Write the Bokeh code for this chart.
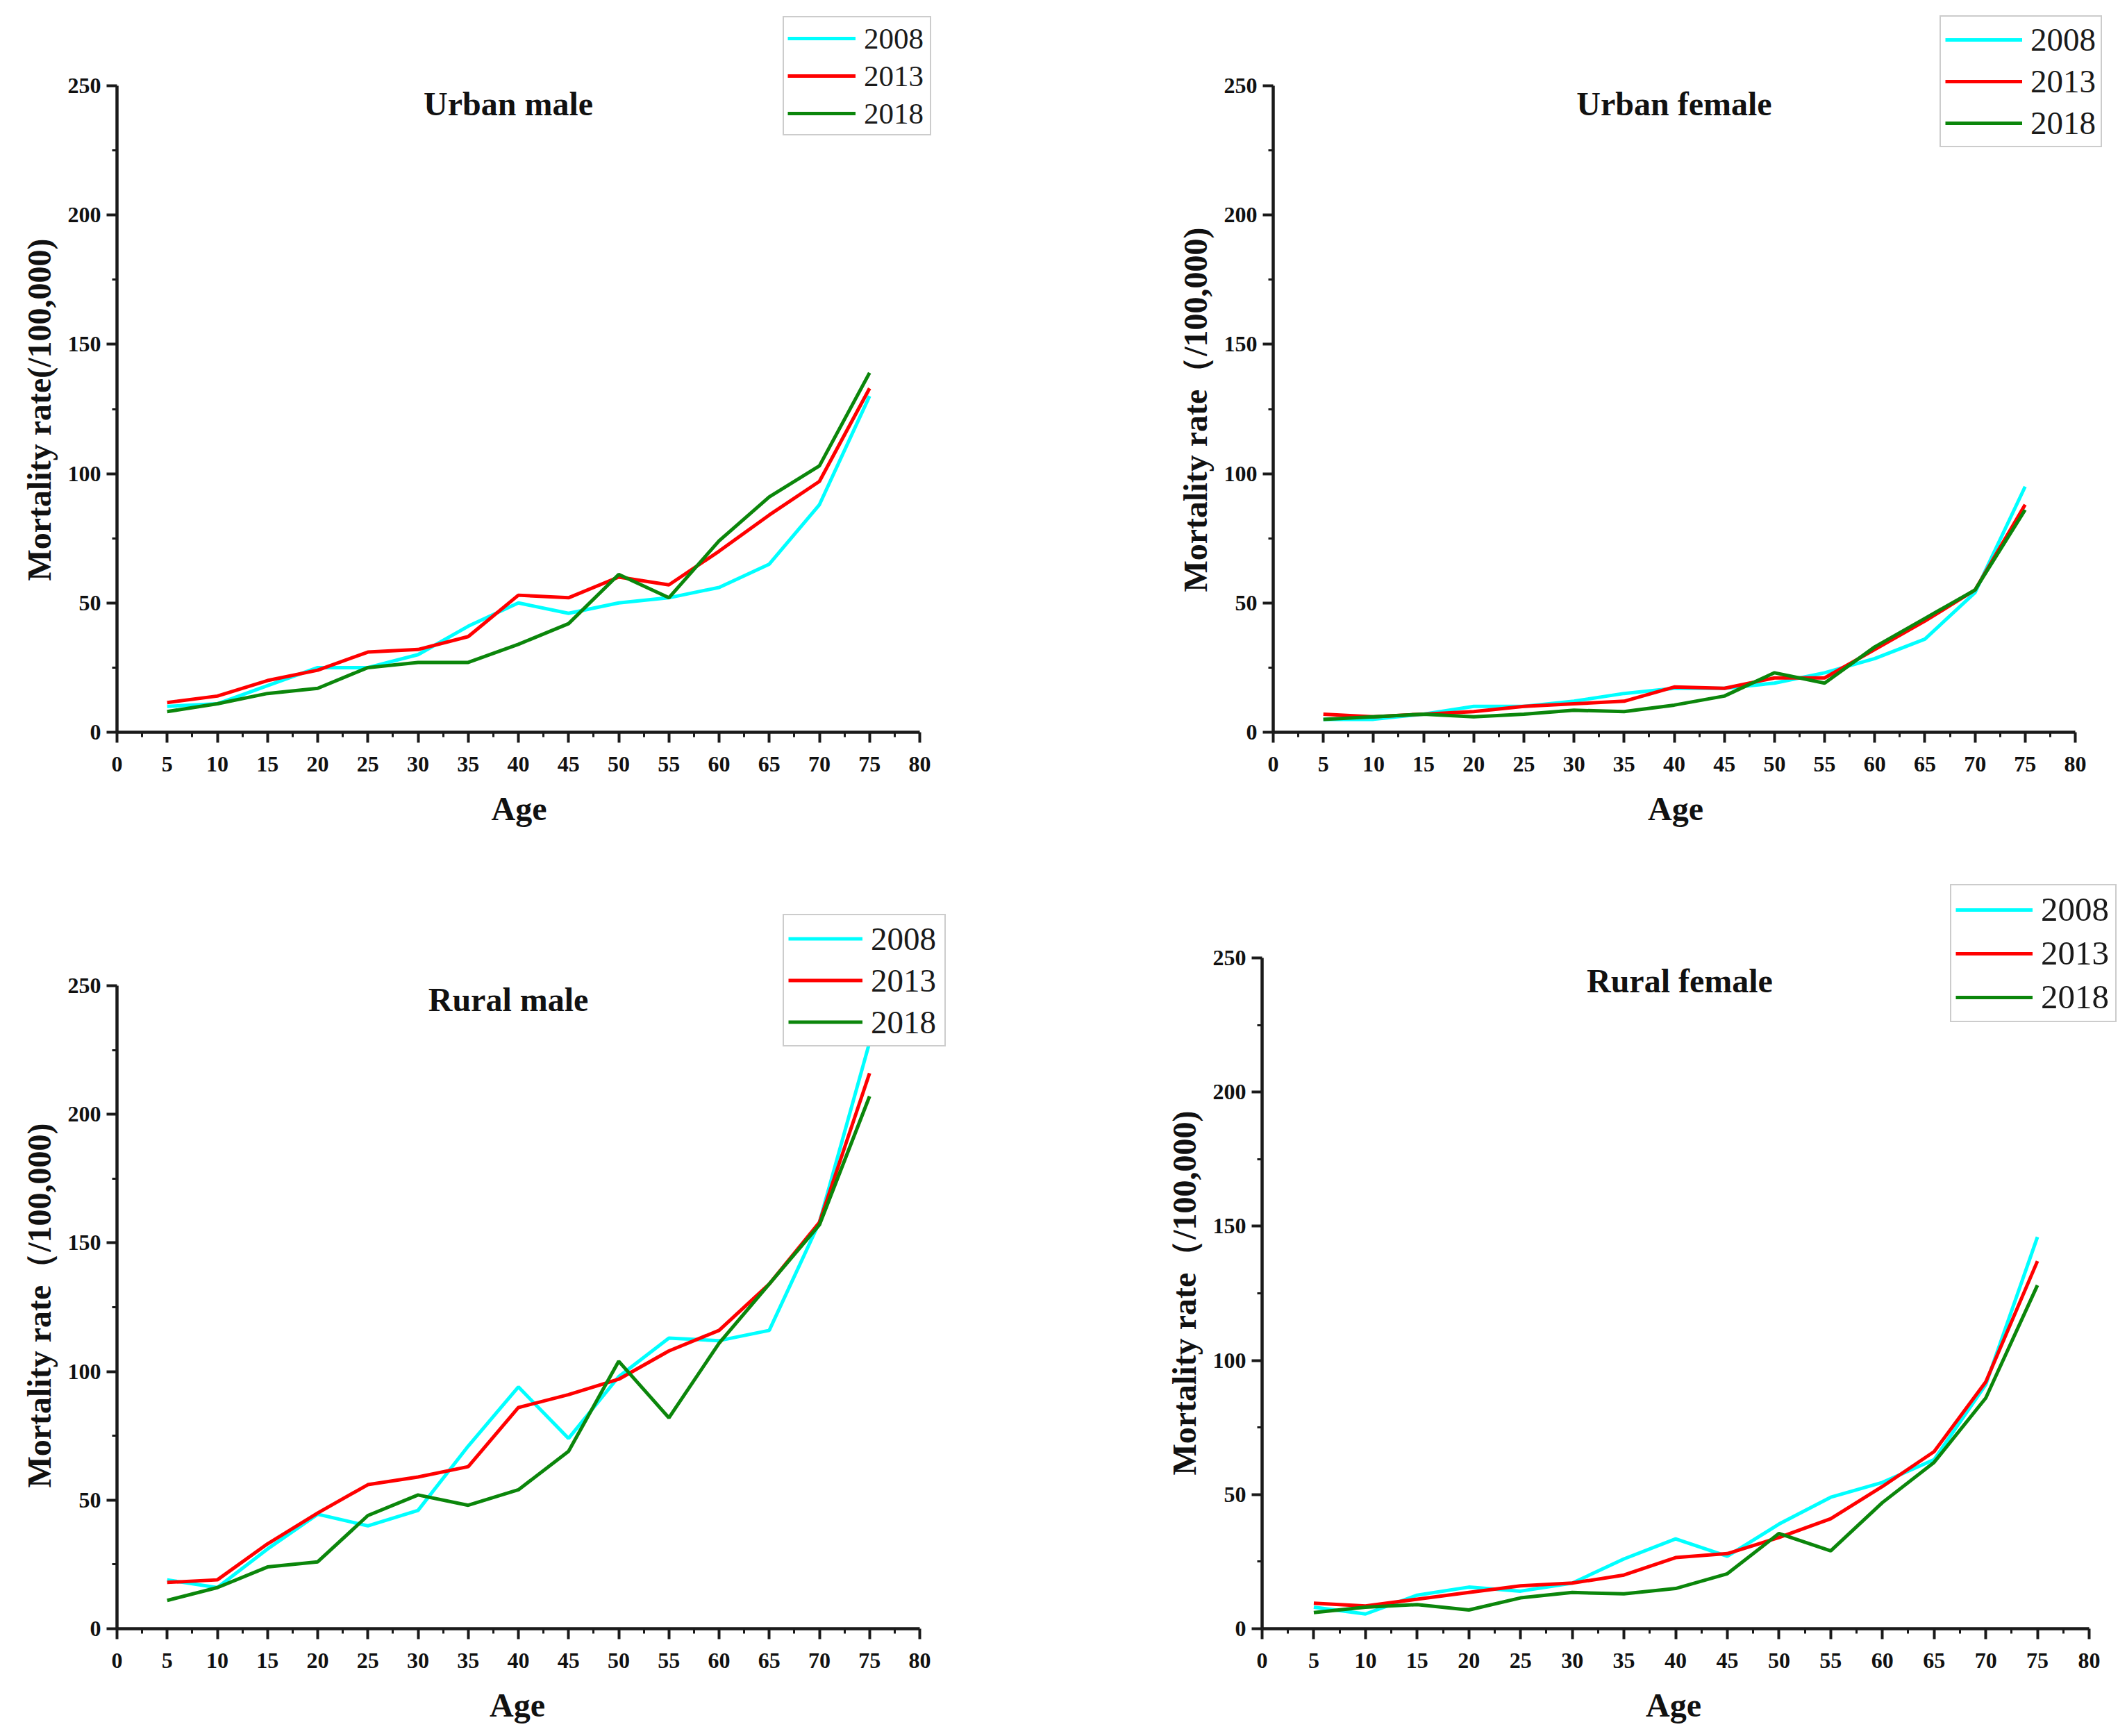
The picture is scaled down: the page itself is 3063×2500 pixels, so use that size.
from bokeh.plotting import figure
from bokeh.layouts import column, row
from bokeh.models import FixedTicker, Legend, LegendItem, Label
from bokeh.embed import file_html
from bokeh.resources import INLINE

# age groups (x) and survey years
ages = [5, 10, 15, 20, 25, 30, 35, 40, 45, 50, 55, 60, 65, 70, 75]
years = ["2008", "2013", "2018"]
x_ticks = [0, 5, 10, 15, 20, 25, 30, 35, 40, 45, 50, 55, 60, 65, 70, 75, 80]
x_minor = [2.5, 7.5, 12.5, 17.5, 22.5, 27.5, 32.5, 37.5, 42.5, 47.5, 52.5, 57.5, 62.5, 67.5, 72.5, 77.5]
y_ticks = [0, 50, 100, 150, 200, 250]
y_minor = [25, 75, 125, 175, 225]

# mortality rate per 100,000
urban_male_2008 = [10, 11, 18, 25, 25, 30, 41, 50, 46, 50, 52, 56, 65, 88, 130]
urban_male_2013 = [11.5, 14, 20, 24, 31, 32, 37, 53, 52, 60, 57, 70, 84, 97, 133]
urban_male_2018 = [8, 11, 15, 17, 25, 27, 27, 34, 42, 61, 52, 74, 91, 103, 139]

urban_female_2008 = [5, 5, 7, 10, 10, 12, 15, 17, 17, 19, 23, 28.5, 36, 54, 95]
urban_female_2013 = [7, 6, 7, 8, 10, 11, 12, 17.5, 17, 21, 21, 32, 43, 55, 88]
urban_female_2018 = [5, 6, 7, 6, 7, 8.5, 8, 10.5, 14, 23, 19, 33, 44, 55, 86]

rural_male_2008 = [19, 16, 31, 44.5, 40, 46, 71, 94, 74, 98, 113, 112, 116, 158, 228]
rural_male_2013 = [18, 19, 33, 45, 56, 59, 63, 86, 91, 97, 108, 116, 134, 158, 216]
rural_male_2018 = [11, 16, 24, 26, 44, 52, 48, 54, 69, 104, 82, 111, 134, 157, 207]

rural_female_2008 = [8, 5.5, 12.5, 15.5, 14, 17, 26, 33.5, 27, 39, 49, 54.5, 63, 91, 146]
rural_female_2013 = [9.5, 8.5, 11, 13.5, 16, 17, 20, 26.5, 28, 34, 41, 53, 66, 92, 137]
rural_female_2018 = [6, 8, 9, 7, 11.5, 13.5, 13, 15, 20.5, 35.5, 29, 47, 62, 86, 128]

COLORS = {"2008": "#00ffff", "2013": "#ff0000", "2018": "#0b860b"}
FONT = "Liberation Serif"
LABEL_PX = 48
NBSP = "\u00a0"


def pad_label(text, shift_px):
    # axis labels are centred on the whole frame; the frame is larger than the
    # axes here, so trailing no-break spaces move the visible text back
    n = round(2 * shift_px / (0.25 * LABEL_PX))
    return text + NBSP * n


def make_panel(title, series, y_label, size, borders, ext, title_xy, leg):
    width, height = size
    left, right, top, bottom = borders
    ext_top, ext_right = ext
    # the frame is a bit taller/wider than the axes so the legend is not clipped
    axes_w = width - left - right
    axes_h = height - top - bottom
    x_end = 80 + ext_right * 80 / axes_w
    y_end = 250 + ext_top * 250 / axes_h

    p = figure(width=width, height=height, x_range=(0, x_end), y_range=(0, y_end),
               output_backend="svg", toolbar_location=None,
               min_border_left=left, min_border_right=right - ext_right,
               min_border_top=top - ext_top, min_border_bottom=bottom)
    p.outline_line_color = None
    p.grid.grid_line_color = None

    items = []
    for year, values in zip(years, series):
        r = p.line(ages, values, line_color=COLORS[year], line_width=5)
        items.append(LegendItem(label=year, renderers=[r]))

    p.xaxis.ticker = FixedTicker(ticks=x_ticks, minor_ticks=x_minor)
    p.yaxis.ticker = FixedTicker(ticks=y_ticks, minor_ticks=y_minor)
    p.xaxis.bounds = (0, 80)
    p.yaxis.bounds = (0, 250)
    p.xaxis.axis_label = pad_label("Age", ext_right / 2)
    p.yaxis.axis_label = pad_label(y_label, ext_top / 2)

    p.axis.axis_line_width = 4.5
    p.axis.axis_line_color = "#1a1a1a"
    p.axis.major_tick_line_width = 4
    p.axis.major_tick_line_color = "#1a1a1a"
    p.axis.major_tick_in = 0
    p.axis.major_tick_out = 15
    p.axis.minor_tick_line_width = 3
    p.axis.minor_tick_line_color = "#1a1a1a"
    p.axis.minor_tick_in = 0
    p.axis.minor_tick_out = 7
    p.axis.major_label_text_font = FONT
    p.axis.major_label_text_font_style = "bold"
    p.axis.major_label_text_font_size = "32px"
    p.axis.major_label_text_color = "#111111"
    p.axis.axis_label_text_font = FONT
    p.axis.axis_label_text_font_style = "bold"
    p.axis.axis_label_text_font_size = f"{LABEL_PX}px"
    p.axis.axis_label_text_color = "#111111"
    p.xaxis.major_label_standoff = 20
    p.yaxis.major_label_standoff = 8
    p.xaxis.axis_label_standoff = 24
    p.yaxis.axis_label_standoff = 12

    p.add_layout(Label(x=title_xy[0], y=title_xy[1], text=title,
                       text_align="center", text_baseline="middle",
                       text_font=FONT, text_font_style="bold",
                       text_font_size="48px", text_color="#111111"))

    legend = Legend(items=items, location=leg["loc"],
                    glyph_width=leg["glyph"], glyph_height=leg["row"],
                    label_height=leg["row"], label_width=leg["label"],
                    label_standoff=12, padding=leg["pad"], spacing=leg["space"],
                    margin=0, border_line_color="#9a9a9a", border_line_width=2,
                    label_text_font=FONT, label_text_font_size=leg["font"],
                    label_text_color="#1a1a1a", background_fill_alpha=1)
    p.add_layout(legend)
    return p


label_plain = "Mortality rate(/100,000)"
label_wide = "Mortality rate\uff08/100,000)"

a = make_panel("Urban male", [urban_male_2008, urban_male_2013, urban_male_2018],
               label_plain, (1480, 1230), (168, 156, 123, 176), (106, 26), (39, 243),
               dict(loc=(959, 859), glyph=98, row=50, label=90, pad=5, space=4, font="43px"))
b = make_panel("Urban female", [urban_female_2008, urban_female_2013, urban_female_2018],
               label_wide, (1580, 1230), (353, 72, 123, 176), (106, 40), (40, 243),
               dict(loc=(960, 842), glyph=111, row=54, label=95, pad=6, space=6, font="47px"))
c = make_panel("Rural male", [rural_male_2008, rural_male_2013, rural_male_2018],
               label_wide, (1480, 1268), (168, 156, 189, 153), (149, 45), (39, 244.5),
               dict(loc=(959, 838), glyph=107, row=55, label=100, pad=6, space=5, font="47px"))
d = make_panel("Rural female", [rural_female_2008, rural_female_2013, rural_female_2018],
               label_wide, (1580, 1268), (337, 52, 149, 153), (109, 42), (40.4, 241.5),
               dict(loc=(991, 873), glyph=111, row=56, label=101, pad=6, space=6, font="49px"))

layout = column(row(a, b), row(c, d))

open("out.html", "w").write(file_html(layout, INLINE))
